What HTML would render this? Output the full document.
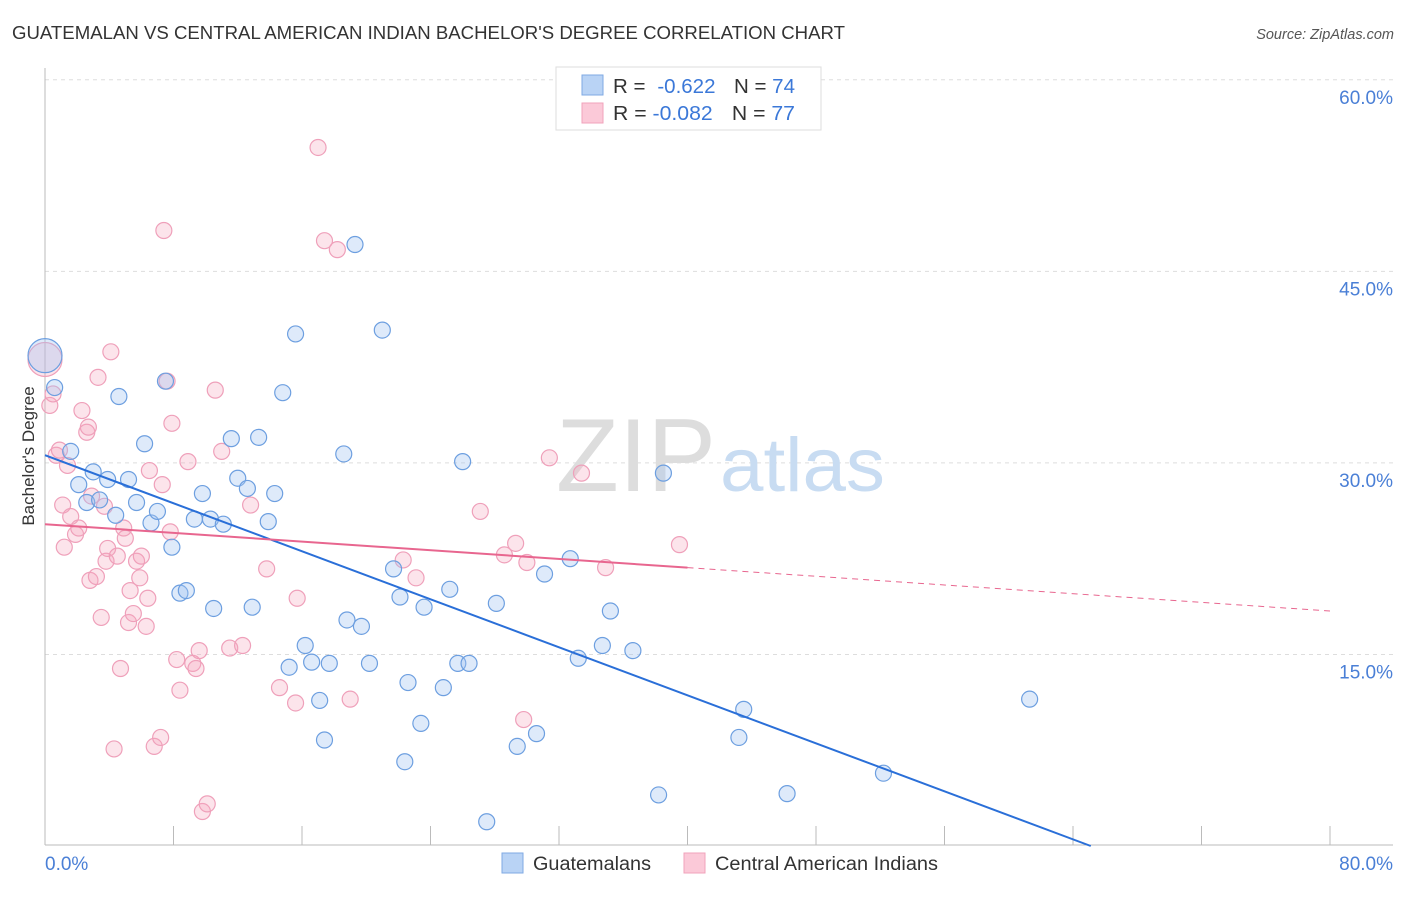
<!DOCTYPE html>
<html><head><meta charset="utf-8">
<style>
body{margin:0;background:#fff;font-family:"Liberation Sans",sans-serif;}
svg text{font-family:"Liberation Sans",sans-serif;}
</style></head>
<body>
<svg id="chart" width="1406" height="892" viewBox="0 0 1406 892">
<text x="12" y="39" font-size="18" fill="#333" textLength="833" lengthAdjust="spacingAndGlyphs">GUATEMALAN VS CENTRAL AMERICAN INDIAN BACHELOR'S DEGREE CORRELATION CHART</text>
<text x="1394" y="39" font-size="14.5" fill="#555" font-style="italic" text-anchor="end">Source: ZipAtlas.com</text>
<g id="grid"></g>
<text x="716" y="491" font-size="104" fill="#ddd" text-anchor="end" font-family="Liberation Serif" textLength="160" lengthAdjust="spacingAndGlyphs">ZIP</text>
<text x="720" y="491" font-size="76" fill="#c8dcf2" textLength="165" lengthAdjust="spacingAndGlyphs">atlas</text>
<g id="axes"></g>
<g id="marks"></g>
<text transform="translate(34,456) rotate(-90)" font-size="17" fill="#333" text-anchor="middle">Bachelor's Degree</text>
<text x="45" y="870" font-size="19" fill="#4a7fd6">0.0%</text>
<text x="1393" y="870" font-size="19" fill="#4a7fd6" text-anchor="end">80.0%</text>
<g>
<rect x="556" y="67" width="265" height="63" fill="#fff" stroke="#ddd"/>
<rect x="582" y="75" width="21" height="20" fill="#b9d3f5" stroke="#7fa9e3"/>
<rect x="582" y="103" width="21" height="20" fill="#fbc9d8" stroke="#f0a3bb"/>
<text x="613" y="93" font-size="20" fill="#333" textLength="182" lengthAdjust="spacingAndGlyphs">R = <tspan fill="#3b78d8" dx="6">-0.622</tspan><tspan fill="#333" dx="18">N = </tspan><tspan fill="#3b78d8">74</tspan></text>
<text x="613" y="120" font-size="20" fill="#333" textLength="182" lengthAdjust="spacingAndGlyphs">R = <tspan fill="#3b78d8">-0.082</tspan><tspan fill="#333" dx="18">N = </tspan><tspan fill="#3b78d8">77</tspan></text>
</g>
<g>
<rect x="502" y="853" width="21" height="20" fill="#b9d3f5" stroke="#7fa9e3"/>
<text x="533" y="870" font-size="19" fill="#333" textLength="118" lengthAdjust="spacingAndGlyphs">Guatemalans</text>
<rect x="684" y="853" width="21" height="20" fill="#fbc9d8" stroke="#f0a3bb"/>
<text x="715" y="870" font-size="19" fill="#333" textLength="223" lengthAdjust="spacingAndGlyphs">Central American Indians</text>
</g>
</svg>
<script>
const yTicks=[15,30,45,60];
const yTickLabels=["15.0%","30.0%","45.0%","60.0%"];
const xTicks=[0,8,16,24,32,40,48,56,64,72,80];
const blueX=[0.0,0.6,1.6,2.1,2.6,3.0,3.4,3.9,4.4,4.6,5.2,5.7,6.2,6.6,7.0,7.9,7.5,8.4,8.8,9.3,9.8,10.3,10.5,11.1,11.6,12.0,12.6,12.9,13.3,13.9,14.3,14.8,15.2,15.6,16.2,16.6,17.1,17.4,17.7,18.6,18.8,19.3,19.7,20.2,21.0,21.7,22.1,22.4,22.6,23.4,23.6,24.8,25.2,25.7,26.0,26.4,27.5,28.1,29.4,30.6,31.1,32.7,33.2,34.7,35.2,36.6,38.2,38.5,43.2,43.5,46.2,52.2,61.3];
const blueY=[38.4,35.9,30.9,28.3,26.9,29.3,27.1,28.7,25.9,35.2,28.7,26.9,31.5,25.3,26.2,23.4,36.4,19.8,20.0,25.6,27.6,25.6,18.6,25.2,31.9,28.8,28.0,18.7,32.0,25.4,27.6,35.5,14.0,40.1,15.7,14.4,11.4,8.3,14.3,30.7,17.7,47.1,17.2,14.3,40.4,21.7,19.5,6.6,12.8,9.6,18.7,12.4,20.1,14.3,30.1,14.3,1.9,19.0,7.8,8.8,21.3,22.5,14.7,15.7,18.4,15.3,4.0,29.2,8.5,10.7,4.1,5.7,11.5];
const pinkX=[0.0,0.3,0.5,0.7,0.9,1.1,1.2,1.4,1.6,1.9,2.1,2.3,2.6,2.7,2.8,2.9,3.2,3.3,3.5,3.7,3.8,3.9,4.1,4.3,4.5,4.7,4.9,5.0,5.2,5.3,5.5,5.7,5.9,6.0,6.3,6.4,6.5,6.8,7.2,7.3,7.4,7.6,7.8,7.9,8.2,8.4,8.9,9.2,9.4,9.6,9.8,10.1,10.6,11.0,11.5,12.3,12.8,13.8,14.6,15.6,15.7,17.0,17.4,18.2,19.0,22.3,23.1,27.1,28.6,29.3,29.8,30.0,31.4,33.4,34.9,39.5];
const pinkY=[38.1,34.5,35.4,30.6,31.0,26.7,23.4,29.8,25.8,24.4,24.9,34.1,32.4,32.8,20.8,27.4,21.1,36.7,17.9,26.6,22.3,23.3,38.7,7.6,22.7,13.9,24.9,24.1,17.5,20.0,18.2,22.3,21.0,22.7,17.2,19.4,29.4,7.8,8.5,28.3,48.2,36.4,24.6,33.1,14.6,12.2,30.1,14.3,13.9,15.3,2.7,3.3,35.7,30.9,15.5,15.7,26.7,21.7,12.4,11.2,19.4,54.7,47.4,46.7,11.5,22.4,21.0,26.2,22.8,23.7,9.9,22.2,30.4,29.2,21.8,23.6];
const blueTrend=[30.6,-0.47];
const pinkTrend=[25.2,-0.085];
const pinkSolidEnd=40;
const NS="http://www.w3.org/2000/svg";
function sx(v){return 45+v*(1285/80);}
function sy(v){return 846-v*12.77;}
function mk(tag,attrs,parent){const e=document.createElementNS(NS,tag);for(const k in attrs)e.setAttribute(k,attrs[k]);parent.appendChild(e);return e;}
const grid=document.getElementById('grid'),axes=document.getElementById('axes'),marks=document.getElementById('marks');
yTicks.forEach((t,i)=>{
 const l=mk('line',{x1:45,x2:1393,y1:sy(t),y2:sy(t),stroke:'#ddd','stroke-dasharray':'4,4'},grid);
 
 
 const tx=mk('text',{x:1393,y:sy(t)+24,'font-size':19,fill:'#4a7fd6','text-anchor':'end'},grid);
 tx.textContent=yTickLabels[i];
 
 
});
const xl=mk('line',{x1:45,x2:1393,y1:845,y2:845,stroke:'#bbb'},axes);


const yl=mk('line',{x1:45,x2:45,y1:68,y2:845,stroke:'#bbb'},axes);


xTicks.forEach(t=>{
 const l=mk('line',{x1:sx(t),x2:sx(t),y1:826,y2:845,stroke:'#bbb'},axes);
 
 
});
function dots(X,Y,fill,stroke,name){
 X.forEach((x,i)=>{
  const r=i===0?17:8;
  const c=mk('circle',{cx:sx(x),cy:sy(Y[i]),r:r,fill:fill,stroke:stroke,'stroke-width':1.2},marks);
  
  
 });
}
dots(pinkX,pinkY,'rgba(245,165,190,0.3)','#efa0ba','point-central-american-indian');
dots(blueX,blueY,'rgba(160,196,240,0.35)','#6d9fe0','point-guatemalan');
const bx0=-blueTrend[0]/blueTrend[1];
const bl=mk('line',{x1:sx(0),y1:sy(blueTrend[0]),x2:sx(bx0),y2:sy(0),stroke:'#2a6fd8','stroke-width':2},marks);


const pl=mk('line',{x1:sx(0),y1:sy(pinkTrend[0]),x2:sx(pinkSolidEnd),y2:sy(pinkTrend[0]+pinkTrend[1]*pinkSolidEnd),stroke:'#e8668f','stroke-width':2},marks);


const pd=mk('line',{x1:sx(pinkSolidEnd),y1:sy(pinkTrend[0]+pinkTrend[1]*pinkSolidEnd),x2:sx(80),y2:sy(pinkTrend[0]+pinkTrend[1]*80),stroke:'#e8668f','stroke-width':1,'stroke-dasharray':'6,5'},marks);


</script>
</body></html>
